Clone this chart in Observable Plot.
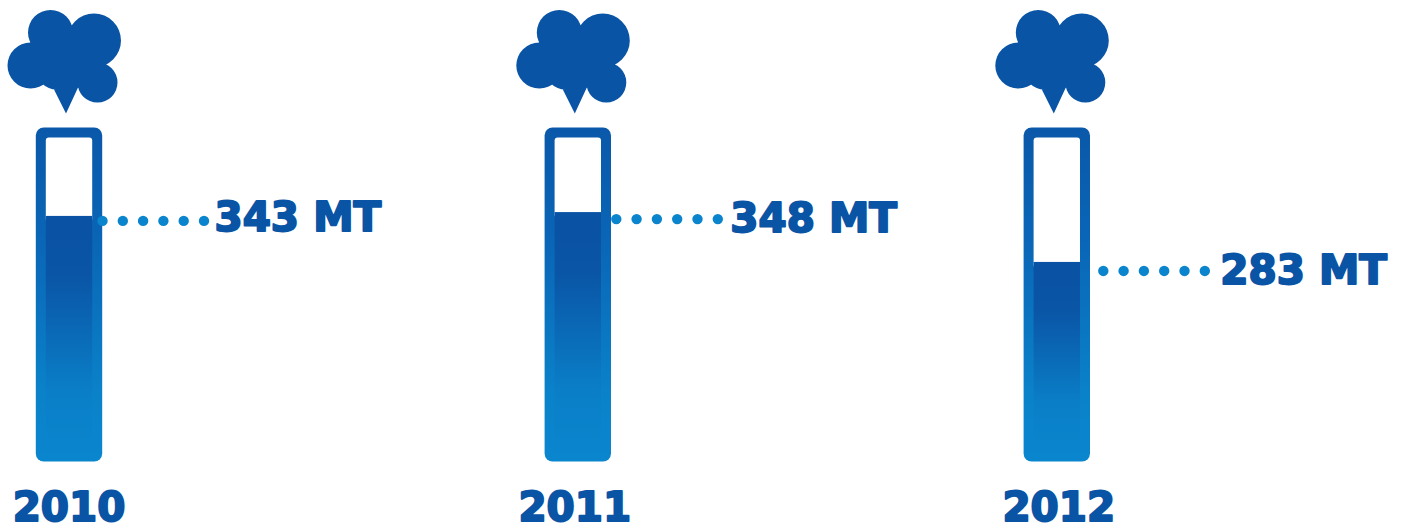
<!DOCTYPE html>
<html>
<head>
<meta charset="utf-8">
<script src="https://cdn.jsdelivr.net/npm/d3@7"></script>
<script src="https://cdn.jsdelivr.net/npm/@observablehq/plot@0.6"></script>
<style>html,body{margin:0;padding:0;background:#fff}svg{display:block}</style>
</head>
<body>
<div id="chart"></div>
<script>
const years = [2010, 2011, 2012];
const values = [343, 348, 283];
const unit = "MT";
const tubeBase = 22.8, tubeTop = 458.3, innerTop = 445.2, innerBase = 35;

const dark = "#0a54a5", light = "#0a84cc";
const yearCenters = [69, 577.8, 1056.8];
const leaderGap = [33, 38, 46];
const leaderDrop = [4.5, 6.5, 8.5];
const labelGap = [145, 152, 163];
const labelDrop = [2, 6, 9];
const yearShift = [-0.5, -3.5, 1.5];
const dotSteps = d3.range(6);

const rows = years.map((year, i) => ({year, yearLabel: String(year), value: values[i], label: `${values[i]} ${unit}`, i}));

const cloud = {
  draw(c) {
    const lobes = [[-19, -28, 22.5], [24.5, -20, 27], [-39, 5, 23], [28, 22, 20], [-4, 0, 30], [-4, 8, 23], [-13, 9, 20]];
    for (const [x, y, r] of lobes) { c.moveTo(x + r, y); c.arc(x, y, r, 0, 2 * Math.PI); }
    c.moveTo(-17, 26); c.lineTo(9, 26); c.lineTo(-3.5, 53); c.closePath();
  }
};

const defs = () => {
  const s = d3.create("svg:defs");
  const g1 = s.append("linearGradient").attr("id", "wall").attr("x1", 0).attr("x2", 0).attr("y1", 0).attr("y2", 1);
  [[0, "#0a58a9"], [0.35, "#0a66b7"], [0.8, "#0a82ca"], [1, "#0a86ce"]].forEach(([o, c]) => g1.append("stop").attr("offset", o).attr("stop-color", c));
  const g2 = s.append("linearGradient").attr("id", "level").attr("x1", 0).attr("x2", 0).attr("y1", 0).attr("y2", 1);
  [[0, "#0a52a3"], [0.25, "#0a55a6"], [0.75, "#0a7fc8"], [1, "#0a85cd"]].forEach(([o, c]) => g2.append("stop").attr("offset", o).attr("stop-color", c));
  return s.node();
};

const bar = (inset, extra) => ({x1: "year", x2: "year", insetLeft: -inset, insetRight: -inset, ...extra});
const heavy = {fontFamily: "DejaVu Sans", fontWeight: 700, fontSize: 40.5, fill: dark, stroke: dark, strokeWidth: 2, strokeLinejoin: "round"};

const plot = Plot.plot({
  width: 1404,
  height: 526,
  margin: 0,
  style: {background: "#fff"},
  x: {type: "linear", domain: years, range: yearCenters, axis: null},
  y: {domain: [0, 624.5], range: [479, 0], axis: null},
  marks: [
    defs,
    Plot.dot(rows, {x: "year", frameAnchor: "top", dy: 60, symbol: cloud, r: 10, fill: dark}),
    Plot.rect(rows, bar(33.2, {y1: () => tubeBase, y2: () => tubeTop, rx: 8, fill: "url(#wall)"})),
    Plot.rect(rows, bar(23.2, {y1: "value", y2: () => innerTop, rx: 3, insetBottom: -6, fill: "#fff"})),
    Plot.rect(rows, bar(23.2, {y1: () => innerBase, y2: "value", fill: "url(#level)"})),
    ...rows.flatMap((r) => [
      ...dotSteps.map((k) => Plot.dot([r], {x: "year", y: "value", dx: leaderGap[r.i] + k * 20.3, dy: leaderDrop[r.i], r: 5.2, fill: light})),
      Plot.text([r], {x: "year", y: "value", text: "label", dx: labelGap[r.i], dy: labelDrop[r.i], textAnchor: "start", ...heavy}),
      Plot.text([r], {x: "year", text: "yearLabel", frameAnchor: "bottom", dy: -6, dx: yearShift[r.i], lineAnchor: "bottom", ...heavy})
    ])
  ]
});
document.getElementById("chart").append(plot);
</script>
</body>
</html>
